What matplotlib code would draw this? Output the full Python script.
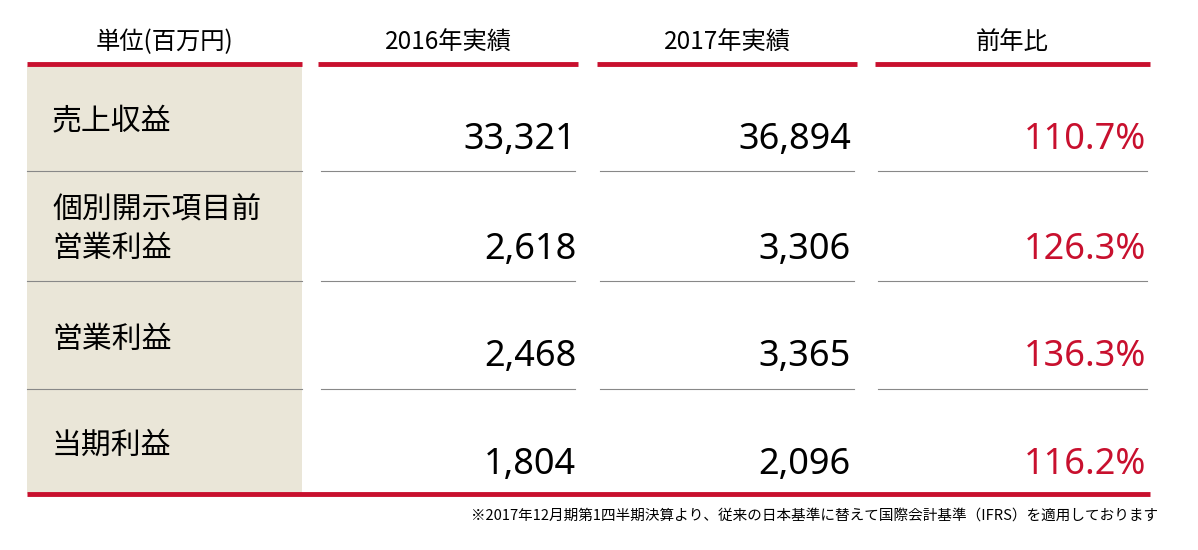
import matplotlib
matplotlib.use("Agg")
import matplotlib.pyplot as plt
from matplotlib.patches import Rectangle

headers = ["単位(百万円)", "2016年実績", "2017年実績", "前年比"]
row_labels = ["売上収益", "個別開示項目前\n営業利益", "営業利益", "当期利益"]
v2016 = ["33,321", "2,618", "2,468", "1,804"]
v2017 = ["36,894", "3,306", "3,365", "2,096"]
ratio = ["110.7%", "126.3%", "136.3%", "116.2%"]
note = "※2017年12月期第1四半期決算より、従来の日本基準に替えて国際会計基準（IFRS）を適用しております"

RED = "#c8102e"
FONT = "Noto Sans CJK JP"
fig = plt.figure(figsize=(11.98, 5.5), dpi=100)
ax = fig.add_axes([0, 0, 1, 1])
ax.set_xlim(0, 1198); ax.set_ylim(550, 0); ax.axis("off")

cols = [(27, 302), (318, 578), (597, 857), (875, 1150)]
ax.add_patch(Rectangle((27, 66), 275, 428, color="#eae6d8", lw=0))
for (x0, x1), h in zip(cols, headers):
    ax.plot([x0, x1], [64, 64], color=RED, lw=3.5, solid_capstyle="butt")
    ax.text((x0 + x1) / 2, 42, h, ha="center", va="center", fontsize=17.5, family=FONT)

seps = [171, 281, 389]
for y in seps:
    ax.plot([27, 302], [y, y], color="#888888", lw=0.8)
    for x0, x1 in cols[1:]:
        ax.plot([x0 + 3, x1 - 3], [y, y], color="#888888", lw=0.8)
ax.plot([27, 1150], [494, 494], color=RED, lw=3.5, solid_capstyle="butt")

label_y = [121, 229, 339, 445]
val_y = [140, 250, 357, 465]
for i in range(4):
    ax.text(52, label_y[i], row_labels[i], ha="left", va="center", fontsize=21.5,
            family=FONT, linespacing=1.3)
    ax.text(576, val_y[i], v2016[i], ha="right", va="center", fontsize=26, family="Noto Sans")
    ax.text(851, val_y[i], v2017[i], ha="right", va="center", fontsize=26, family="Noto Sans")
    ax.text(1146, val_y[i], ratio[i], ha="right", va="center", fontsize=26, family="Noto Sans", color=RED)

ax.text(1158, 517, note, ha="right", va="center", fontsize=10.5, family=FONT)
fig.savefig("out.png", dpi=100)
